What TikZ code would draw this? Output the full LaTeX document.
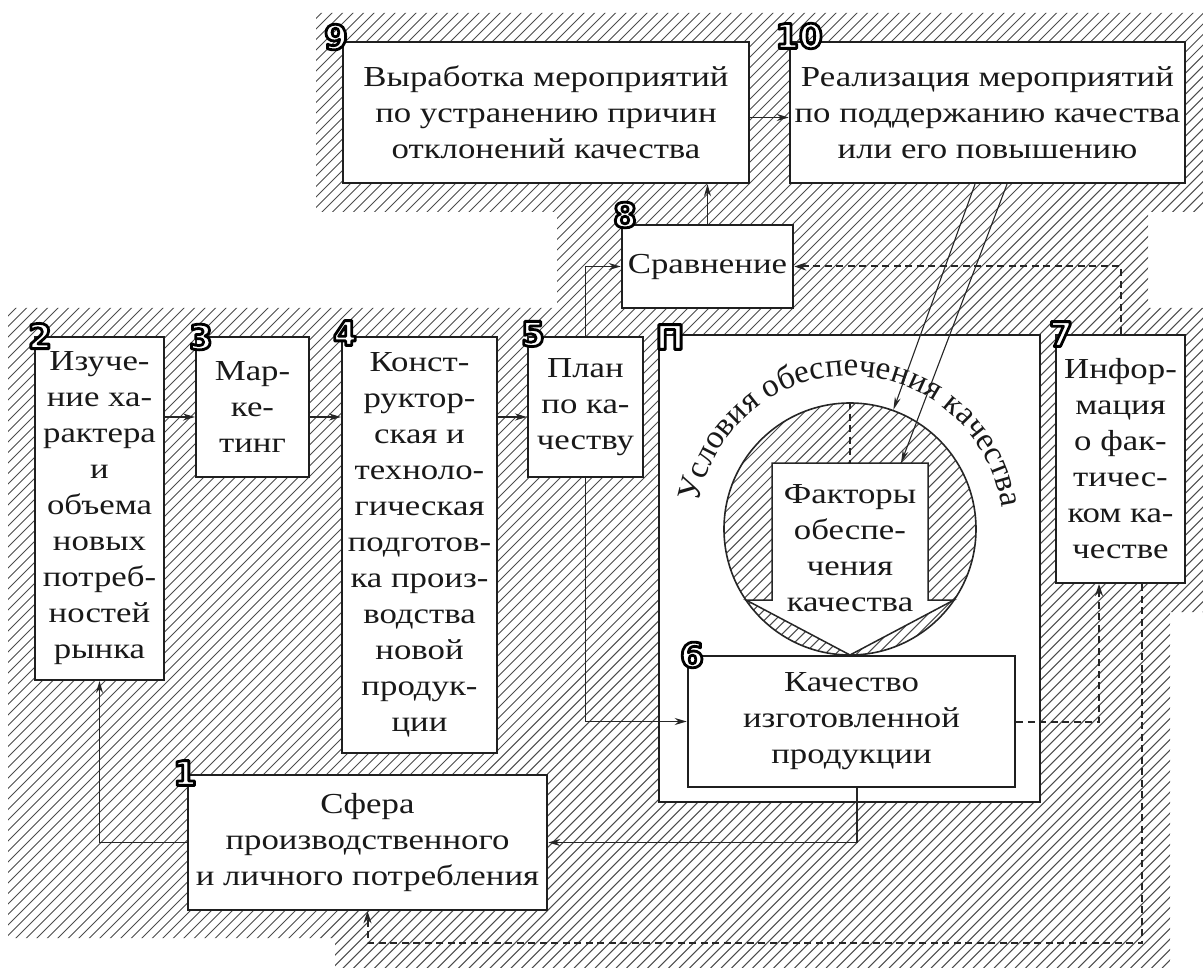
\documentclass[tikz,border=0pt]{standalone}
\usepackage{fontspec}
\setmainfont{Liberation Serif}[FakeStretch=1.2]
\newfontfamily\arcfam{Liberation Serif}
\newfontfamily\labfont{DejaVu Sans}
\usetikzlibrary{arrows.meta,decorations.text}
\newcommand\txtfont{\fontsize{29}{36}\selectfont}
\newcommand\arcfont{\arcfam\fontsize{33}{36}\selectfont}
% outlined numerals: fill white, stroke black
\newcommand\outlined[1]{\special{pdf:literal direct q 2 Tr 2.8 w 1 j 0 0 0 RG}#1\special{pdf:literal direct Q}}
\begin{document}
\begin{tikzpicture}[x=1pt,y=-1pt,
  hatch/.style={line width=1.05pt, draw=black!70},
  box/.style={draw=black!88, line width=2.5pt, fill=white, inner sep=0pt, align=center, font=\txtfont, text=black!90},
  nbox/.style={box, line width=2pt},
  arr/.style={-{Stealth[length=12pt,width=7pt]}, line width=1.3pt, draw=black!85},
  dsh/.style={dash pattern=on 7pt off 4.5pt, line width=2pt, draw=black!85},
  lab/.style={font={\labfont\bfseries\fontsize{34}{34}\selectfont}, inner sep=0pt, text=white}
]
\useasboundingbox (0,0) rectangle (1203,968);
% background hatching
\begin{scope}
\clip (316,13) -- (1203,13) -- (1203,212) -- (1148,212) -- (1148,308) -- (1203,308) -- (1203,612) -- (1170,612) -- (1170,968) -- (335,968) -- (335,938) -- (8,938) -- (8,308) -- (557,308) -- (557,212) -- (316,212) -- cycle;
\foreach \k in {-980,-969.5,...,1210} \draw[hatch] (\k,968) -- ++(968,-968);
\end{scope}

% boxes
\node[box, minimum width=406pt, minimum height=141pt] (b9) at (546,112.5) {Выработка мероприятий\\по устранению причин\\отклонений качества};
\node[box, minimum width=395pt, minimum height=141pt] (b10) at (987.5,112.5) {Реализация мероприятий\\по поддержанию качества\\или его повышению};
\node[box, minimum width=171pt, minimum height=83pt] (b8) at (707.5,266.5) {Сравнение};
\node[nbox, minimum width=129pt, minimum height=343pt] (b2) at (99.5,508.5) {Изуче-\\ние ха-\\рактера\\и\\объема\\новых\\потреб-\\ностей\\рынка};
\node[nbox, minimum width=113pt, minimum height=140pt] (b3) at (252.5,407) {Мар-\\ке-\\тинг};
\node[nbox, minimum width=155pt, minimum height=416pt] (b4) at (419.5,545) {Конст-\\руктор-\\ская и\\техноло-\\гическая\\подготов-\\ка произ-\\водства\\новой\\продук-\\ции};
\node[nbox, minimum width=115pt, minimum height=140pt] (b5) at (585.5,407) {План\\по ка-\\честву};
\node[box, minimum width=381pt, minimum height=467pt] (bP) at (849.5,568.5) {};
\node[nbox, minimum width=129pt, minimum height=248pt] (b7) at (1120.5,459) {Инфор-\\мация\\о фак-\\тичес-\\ком ка-\\честве};
\node[box, minimum width=359pt, minimum height=135pt] (b1) at (367.5,842.5) {Сфера\\производственного\\и личного потребления};

% circle of factors
\begin{scope}
\clip (850,529) circle[radius=126];
\foreach \k in {-980,-969.5,...,1210} \draw[hatch] (\k,968) -- ++(968,-968);
\end{scope}
\node[draw=black!85, line width=1.6pt, circle, minimum size=252pt, inner sep=0pt] (circ) at (850,529) {};
\draw[line width=1.5pt, draw=black!85, fill=white] (772,463) -- (928,463) -- (928,600) -- (954,600) -- (850,655) -- (746,600) -- (772,600) -- cycle;
\node[font=\txtfont, align=center, text=black!90, inner sep=0pt] (fk) at (850,548) {Факторы\\обеспе-\\чения\\качества};
\coordinate (ftop) at (850,463);
\coordinate (farr) at (901,463);
\draw[dsh] (circ.north) -- (ftop);

\node[box, minimum width=327pt, minimum height=131pt] (b6) at (851.5,721.5) {Качество\\изготовленной\\продукции};

% arc text
\path[decorate, decoration={text along path, text={|\arcfont|Условия обеспечения качества}, text align=center, text color=black!90}]
  (850,529) ++(183:153) arc[start angle=183, end angle=359, radius=153];

% connectors
\draw[arr] (b8.north) -- (b8.north |- b9.south);
\draw[arr] ([yshift=-5pt]b9.east) -- ([yshift=-5pt]b10.west);
\draw[arr] ([yshift=-10pt]b3.west -| b2.east) -- ([yshift=-10pt]b3.west);
\draw[arr] ([yshift=-10pt]b3.east) -- ([yshift=-10pt]b3.east -| b4.west);
\draw[arr] ([yshift=-10pt]b5.west -| b4.east) -- ([yshift=-10pt]b5.west);
\draw[arr] (b5.north) |- (b8.west);
\draw[arr] (b5.south) |- (b6.west);
\draw[arr] ([xshift=5.5pt]b6.south) |- (b1.east);
\draw[arr] (b1.west) -| (b2.south);
\draw[dsh, -{Stealth[length=12pt,width=8pt]}] (b7.north) |- (b8.east);
\draw[dsh, -{Stealth[length=12pt,width=8pt]}] (b6.east) -| ([xshift=-21.5pt]b7.south);
\coordinate (bot) at (0,943);
\draw[dsh, -{Stealth[length=12pt,width=8pt]}] ([xshift=21.5pt]b7.south) |- (b1.south |- bot) -- (b1.south);
\draw[-{Stealth[length=13pt,width=6pt]}, line width=1.1pt, draw=black!85] ([xshift=-12.5pt]b10.south) -- (circ.70);
\draw[-{Stealth[length=13pt,width=6pt]}, line width=1.1pt, draw=black!85] ([xshift=19.5pt]b10.south) -- (farr);

% number labels
\node[lab] (l9) at (336,37) {\outlined{9}};
\node[lab] (l10) at (799,36) {\outlined{10}};
\node[lab] (l8) at (625,215) {\outlined{8}};
\node[lab] (l2) at (40,336) {\outlined{2}};
\node[lab] (l3) at (201,337) {\outlined{3}};
\node[lab] (l4) at (345,333) {\outlined{4}};
\node[lab] (l5) at (533,334) {\outlined{5}};
\node[lab] (lP) at (670,337) {\outlined{П}};
\node[lab] (l7) at (1061,334) {\outlined{7}};
\node[lab] (l6) at (692,655) {\outlined{6}};
\node[lab] (l1) at (185,773) {\outlined{1}};
\end{tikzpicture}
\end{document}
